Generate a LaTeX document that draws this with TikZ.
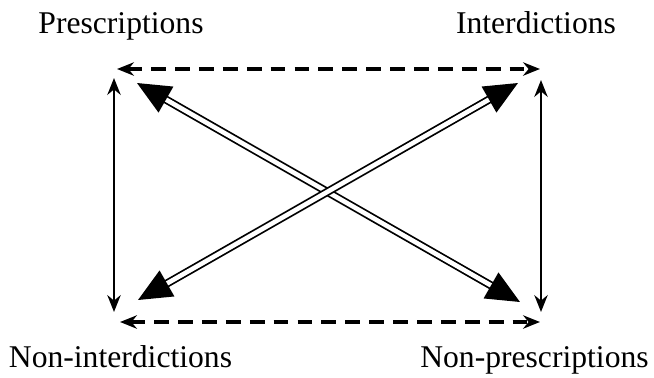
\documentclass[tikz,border=0pt]{standalone}
\usepackage{fontspec}
\setmainfont{Liberation Serif}
\usetikzlibrary{arrows.meta,calc}

\tikzset{
	label/.style={anchor=base, inner sep=0pt, font=\fontsize{9}{10}\selectfont},
	dashlink/.style={line width=1pt, dash pattern=on 4.2pt off 2.6pt, {Stealth[length=4.8pt,width=3.8pt]}-{Stealth[length=4.8pt,width=3.8pt]}},
	solidlink/.style={line width=0.6pt, {Stealth[length=4.8pt,width=3.8pt]}-{Stealth[length=4.8pt,width=3.8pt]}},
	crosslink/.style={double, double distance=1.3pt, line width=0.5pt, shorten <=6pt, shorten >=6pt},
	bigtip/.style={line width=0.5pt, -{Triangle[length=9.5pt,width=8.4pt]}}
}

\begin{document}
\begin{tikzpicture}
	\useasboundingbox (0,0) rectangle (6.54,3.77);
	
	% corner labels
	\node [label] (pre) at (1.21,3.44) {Prescriptions};
	\node [label] (int) at (5.36,3.44) {Interdictions};
	\node [label] (nint) at (1.205,0.10) {Non-interdictions};
	\node [label] (npre) at (5.345,0.10) {Non-prescriptions};
	
	% ends of the frame arrows
	\coordinate (tl) at (1.17,3.08);
	\coordinate (tr) at (5.40,3.08);
	\coordinate (bl) at (1.20,0.55);
	\coordinate (br) at (5.40,0.55);
	\coordinate (lt) at (1.14,2.99);
	\coordinate (lb) at (1.14,0.65);
	\coordinate (rt) at (5.41,2.97);
	\coordinate (rb) at (5.41,0.65);
	
	% ends of the diagonals
	\coordinate (dtl) at (1.37,2.94);
	\coordinate (dtr) at (5.18,2.94);
	\coordinate (dbl) at (1.38,0.77);
	\coordinate (dbr) at (5.20,0.75);
	
	\draw [dashlink] (tl) -- (tr);
	\draw [dashlink] (bl) -- (br);
	\draw [solidlink] (lt) -- (lb);
	\draw [solidlink] (rt) -- (rb);
	
	\draw [crosslink] (dtl) -- (dbr);
	\draw [crosslink] (dbl) -- (dtr);
	
	% arrow heads of the diagonals
	\draw [bigtip] ($(dtl)!0.05!(dbr)$) -- (dtl);
	\draw [bigtip] ($(dbr)!0.05!(dtl)$) -- (dbr);
	\draw [bigtip] ($(dbl)!0.05!(dtr)$) -- (dbl);
	\draw [bigtip] ($(dtr)!0.05!(dbl)$) -- (dtr);
\end{tikzpicture}
\end{document}
